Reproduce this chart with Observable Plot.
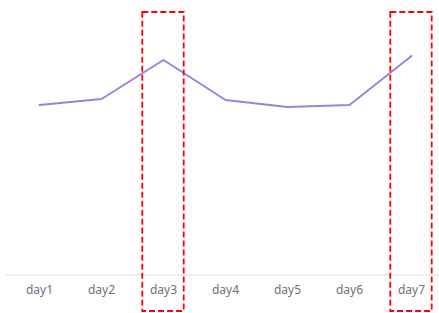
<!DOCTYPE html>
<html>
<head>
<meta charset="utf-8">
<script src="https://cdn.jsdelivr.net/npm/d3@7"></script>
<script src="https://cdn.jsdelivr.net/npm/@observablehq/plot@0.6"></script>
<style>
  html, body { margin: 0; padding: 0; background: #fff; overflow: hidden; }
  #chart svg { display: block; }
</style>
</head>
<body>
<div id="chart"></div>
<script>
const days = ["day1", "day2", "day3", "day4", "day5", "day6", "day7"];
const values = [170, 176, 215, 175, 168, 170, 219];
const highlighted = ["day3", "day7"];

const data = days.map((d, i) => ({day: d, value: values[i]}));

const chart = Plot.plot({
  width: 439,
  height: 313,
  marginLeft: 6,
  marginRight: 0,
  marginTop: 12,
  marginBottom: 2,
  style: {fontFamily: "'Noto Sans', sans-serif", fontSize: "12px", background: "#fff"},
  x: {type: "band", domain: days, range: [6, 444.67], padding: 0, axis: null},
  y: {domain: [0, 250], range: [274.5, 24.5], axis: null},
  marks: [
    Plot.ruleY([0], {stroke: "#dcdcdc", strokeWidth: 1.2}),
    Plot.axisX({tickSize: 0, tickPadding: 0, dy: -26, label: null, fill: "#6e7079", fontSize: 12, fontFamily: "'Noto Sans', sans-serif"}),
    Plot.line(data, {x: "day", y: "value", stroke: "#9b7fe3", strokeWidth: 2}),
    Plot.cell(highlighted, {x: d => d, fill: "none", stroke: "#ff0000", strokeWidth: 1.8, strokeDasharray: "6,3", insetLeft: 10.3, insetRight: 10.3})
  ]
});
document.getElementById("chart").appendChild(chart);
</script>
</body>
</html>
